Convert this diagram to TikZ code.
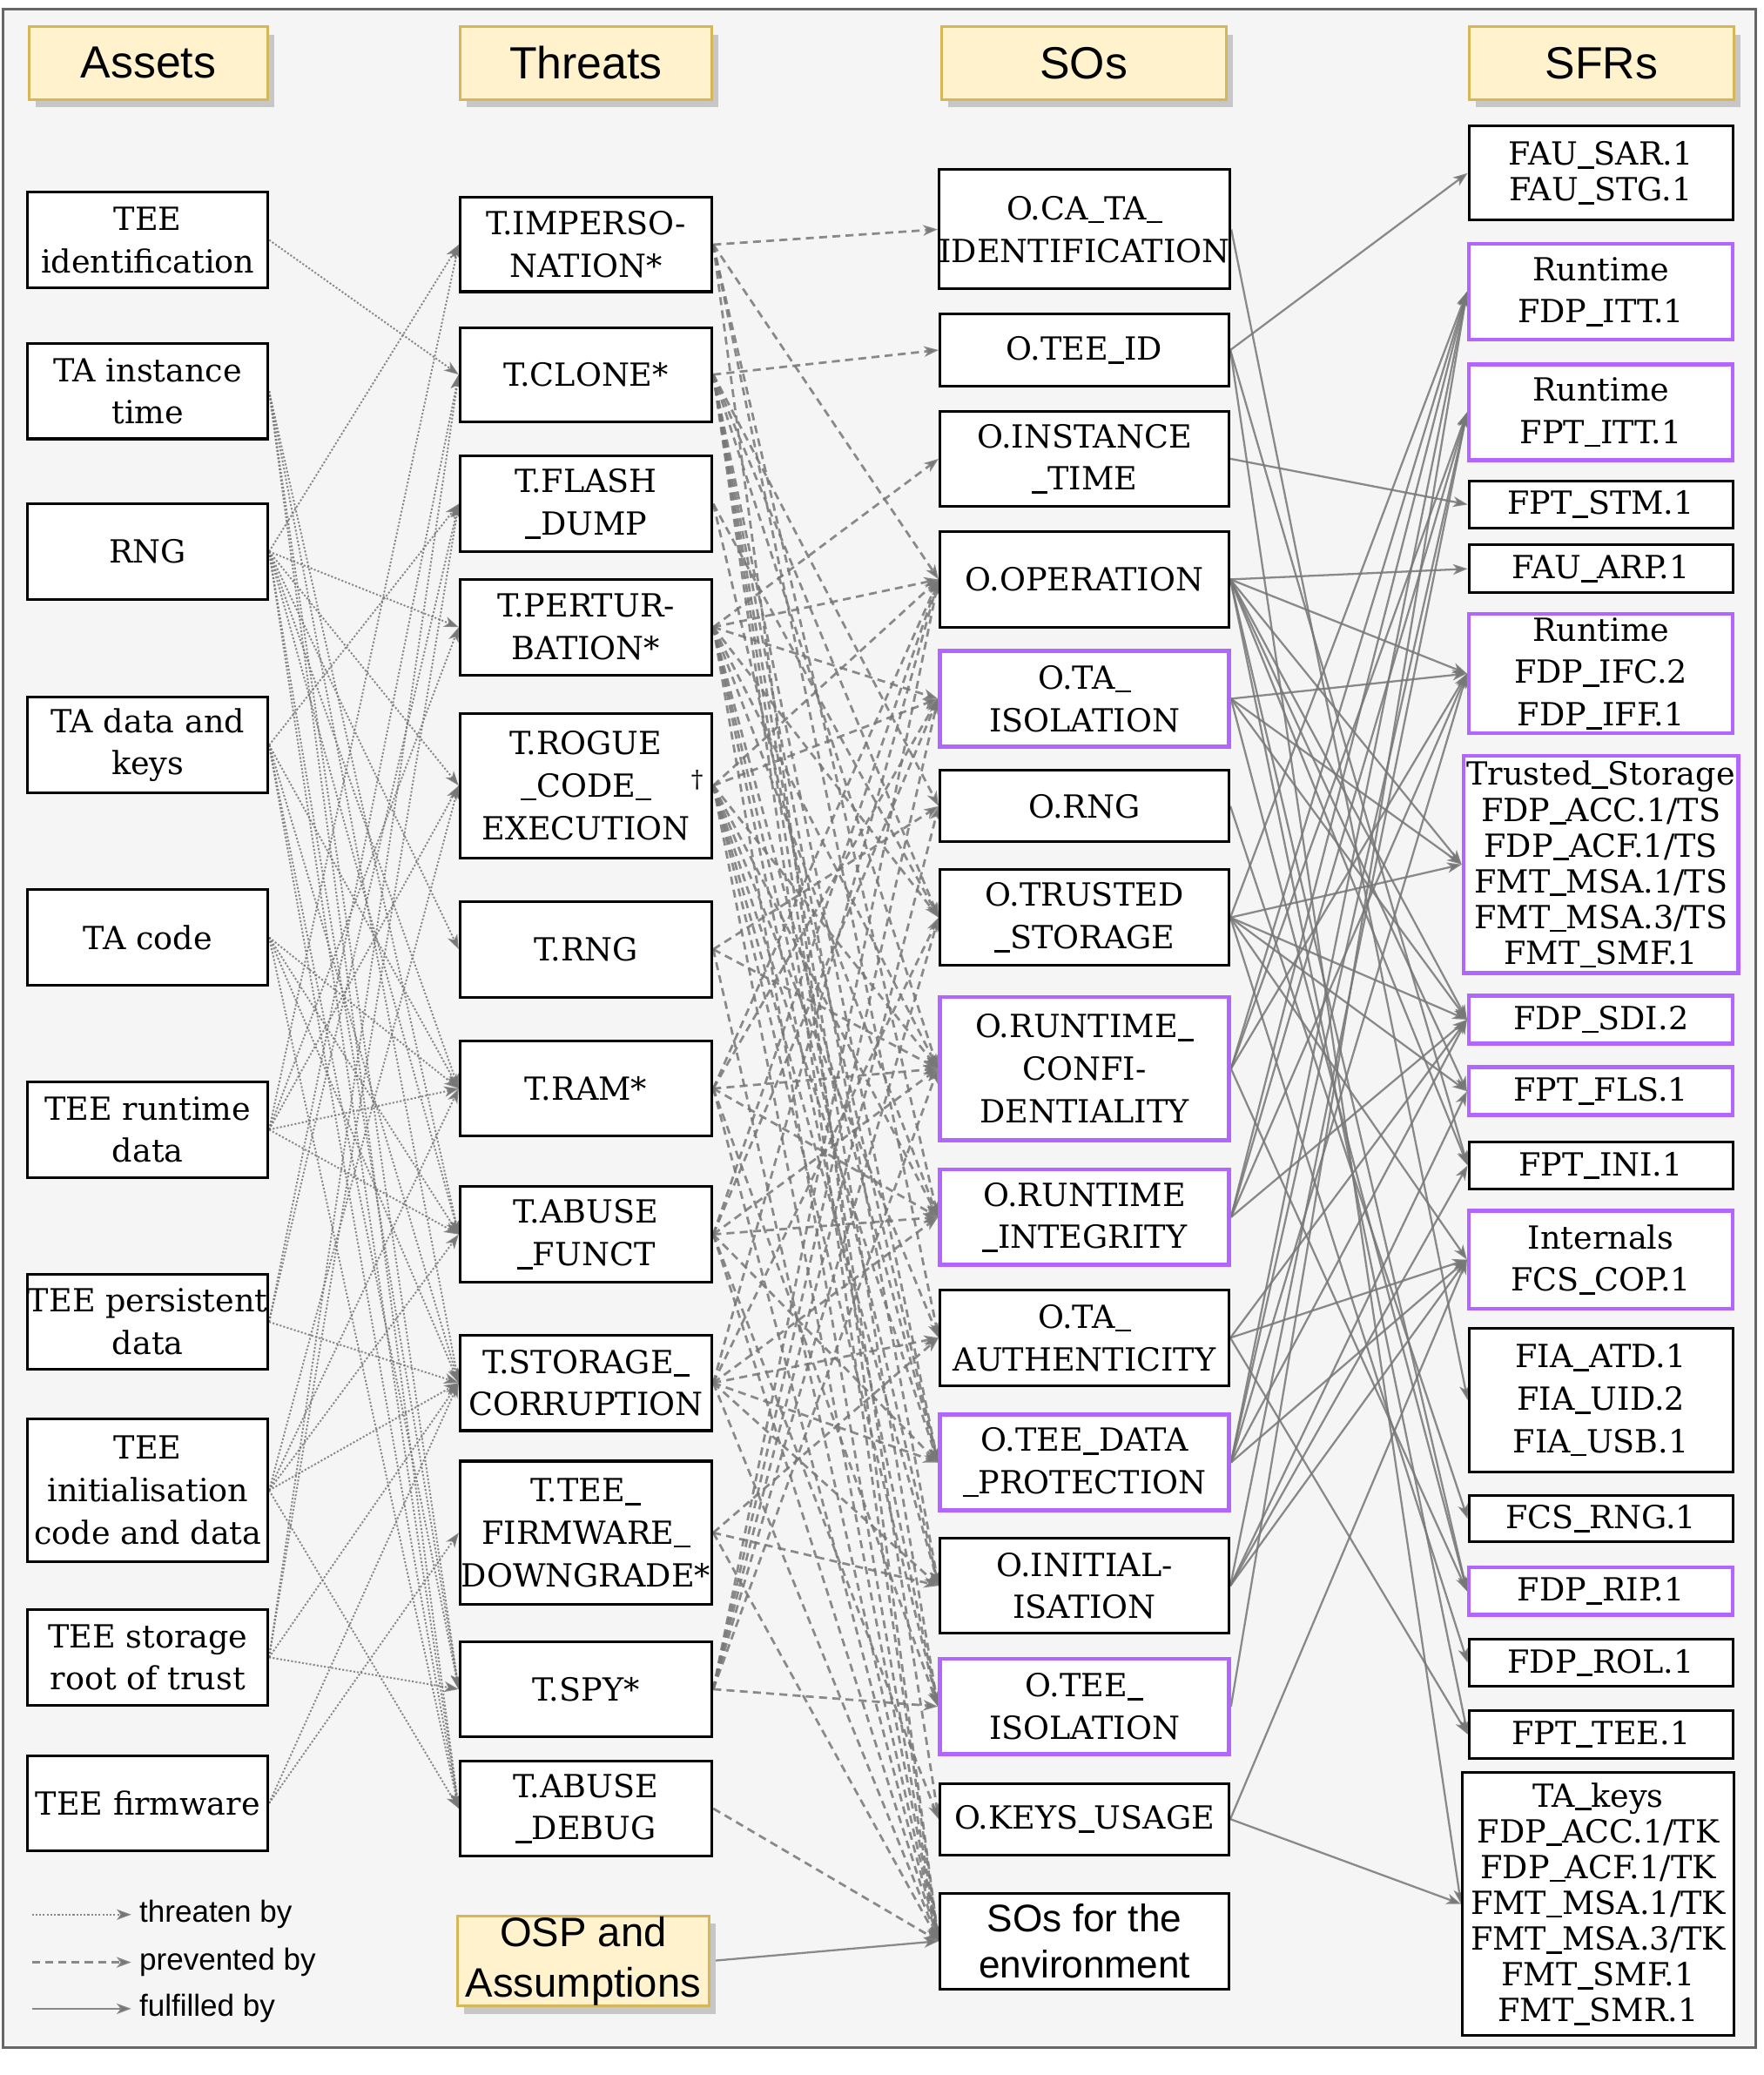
\documentclass[tikz,border=0pt]{standalone}
\usepackage{fontspec}
\setmainfont{DejaVu Serif}
\newfontfamily\sansf{Liberation Sans}
\usetikzlibrary{arrows.meta,shadows}
\definecolor{panel}{HTML}{F5F5F5}
\definecolor{panelborder}{HTML}{666666}
\definecolor{hdrfill}{HTML}{FFF2CC}
\definecolor{hdrdraw}{HTML}{D6B656}
\definecolor{purp}{HTML}{B266FF}
\definecolor{edgec}{HTML}{777777}
\newcommand\us{\rule[-2.6pt]{12pt}{1.8pt}}
\pgfdeclarelayer{back}
\pgfdeclarelayer{edges}
\pgfsetlayers{back,edges,main}
\tikzset{
  box/.style={draw=black, line width=2pt, fill=white, inner sep=0pt, align=center,
    font=\fontsize{24}{32}\selectfont},
  pbox/.style={box, draw=purp, line width=3pt},
  tight/.style={font=\fontsize{24}{27}\selectfont},
  hdr/.style={draw=hdrdraw, fill=hdrfill, line width=2pt, inner sep=0pt, align=center,
    font=\sansf\fontsize{34}{38}\selectfont,
    drop shadow={shadow xshift=5pt, shadow yshift=-6pt, fill=black!22, opacity=1}},
  sbox/.style={box, font=\sansf\fontsize{29}{35}\selectfont},
  lgd/.style={anchor=west, inner sep=0pt, font=\sansf\fontsize{23}{26}\selectfont},
  dotedge/.style={draw=edgec, draw opacity=0.85, line width=1.3pt, dash pattern=on 1.4pt off 1.4pt,
    -{Stealth[length=11pt,width=8pt,inset=3pt]}},
  dashedge/.style={draw=edgec, draw opacity=0.85, line width=1.8pt, dash pattern=on 6pt off 4pt,
    -{Stealth[length=11pt,width=8pt,inset=3pt]}},
  solidedge/.style={draw=edgec, draw opacity=0.85, line width=1.5pt,
    -{Stealth[length=11pt,width=8pt,inset=3pt]}}
}
\begin{document}
\begin{tikzpicture}[x=1pt,y=-1pt]
\useasboundingbox (0,0) rectangle (1330,1565);
\begin{pgfonlayer}{back}
\fill[white] (0,0) rectangle (1330,1565);
\filldraw[fill=panel, draw=panelborder, line width=2pt] (2.6,6.7) rectangle (1324,1544.5);
\end{pgfonlayer}

% headers
\node[hdr, minimum width=180, minimum height=55] (hA) at (112,47.5) {Assets};
\node[hdr, minimum width=190, minimum height=55] (hT) at (442,47.5) {Threats};
\node[hdr, minimum width=215, minimum height=55] (hS) at (817.5,47.5) {SOs};
\node[hdr, minimum width=200, minimum height=55] (hF) at (1208,47.5) {SFRs};
\node[hdr, minimum width=190, minimum height=68, font=\sansf\fontsize{31}{38}\selectfont] (hOSP) at (440,1479) {OSP and\\Assumptions};

% assets
\node[box, minimum width=181, minimum height=72] (aTEEid) at (111.5,181) {TEE\\identification};
\node[box, minimum width=181, minimum height=72] (aTAtime) at (111.5,295) {TA instance\\time};
\node[box, minimum width=181, minimum height=72] (aRNG) at (111.5,416) {RNG};
\node[box, minimum width=181, minimum height=72] (aTAdata) at (111.5,562) {TA data and\\keys};
\node[box, minimum width=181, minimum height=72] (aTAcode) at (111.5,707) {TA code};
\node[box, minimum width=181, minimum height=72] (aRuntime) at (111.5,852) {TEE runtime\\data};
\node[box, minimum width=181, minimum height=72] (aPersist) at (111.5,997) {TEE persistent\\data};
\node[box, minimum width=181, minimum height=108] (aInit) at (111.5,1124) {TEE\\initialisation\\code and data};
\node[box, minimum width=181, minimum height=72] (aRoot) at (111.5,1250) {TEE storage\\root of trust};
\node[box, minimum width=181, minimum height=72] (aFW) at (111.5,1360) {TEE firmware};

% threats
\node[box, minimum width=190, minimum height=71] (tImp) at (442,184.5) {T.IMPERSO-\\NATION*};
\node[box, minimum width=190, minimum height=71] (tClone) at (442,282.5) {T.CLONE*};
\node[box, minimum width=190, minimum height=72] (tFlash) at (442,380) {T.FLASH\\\us DUMP};
\node[box, minimum width=190, minimum height=72] (tPert) at (442,473) {T.PERTUR-\\BATION*};
\node[box, minimum width=190, minimum height=109] (tRogue) at (442,592.5) {T.ROGUE\\\us CODE\us\rlap{\hspace{30pt}\raisebox{7pt}{\fontsize{18}{18}\selectfont †}}\\EXECUTION};
\node[box, minimum width=190, minimum height=72] (tRNG) at (442,716) {T.RNG};
\node[box, minimum width=190, minimum height=72] (tRAM) at (442,821) {T.RAM*};
\node[box, minimum width=190, minimum height=72] (tAbuse) at (442,931) {T.ABUSE\\\us FUNCT};
\node[box, minimum width=190, minimum height=72] (tStor) at (442,1043) {T.STORAGE\us\\CORRUPTION};
\node[box, minimum width=190, minimum height=108] (tFW) at (442,1156) {T.TEE\us\\FIRMWARE\us\\DOWNGRADE*};
\node[box, minimum width=190, minimum height=72] (tSpy) at (442,1274) {T.SPY*};
\node[box, minimum width=190, minimum height=72] (tDebug) at (442,1364) {T.ABUSE\\\us DEBUG};

% SOs
\node[box, minimum width=218, minimum height=90] (sCATA) at (818,173) {O.CA\us TA\us\\IDENTIFICATION};
\node[box, minimum width=218, minimum height=54] (sTEEID) at (818,264) {O.TEE\us ID};
\node[box, minimum width=218, minimum height=72] (sTime) at (818,346) {O.INSTANCE\\\us TIME};
\node[box, minimum width=218, minimum height=72] (sOp) at (818,437) {O.OPERATION};
\node[pbox, minimum width=218, minimum height=72] (sTAiso) at (818,527) {O.TA\us\\ISOLATION};
\node[box, minimum width=218, minimum height=54] (sRNG) at (818,608) {O.RNG};
\node[box, minimum width=218, minimum height=72] (sTS) at (818,692) {O.TRUSTED\\\us STORAGE};
\node[pbox, minimum width=218, minimum height=108] (sRC) at (818,806) {O.RUNTIME\us\\CONFI-\\DENTIALITY};
\node[pbox, minimum width=218, minimum height=72] (sRI) at (818,918) {O.RUNTIME\\\us INTEGRITY};
\node[box, minimum width=218, minimum height=72] (sTAauth) at (818,1009) {O.TA\us\\AUTHENTICITY};
\node[pbox, minimum width=218, minimum height=72] (sTDP) at (818,1103) {O.TEE\us DATA\\\us PROTECTION};
\node[box, minimum width=218, minimum height=72] (sInit) at (818,1196) {O.INITIAL-\\ISATION};
\node[pbox, minimum width=218, minimum height=72] (sTEEiso) at (818,1287) {O.TEE\us\\ISOLATION};
\node[box, minimum width=218, minimum height=54] (sKeys) at (818,1372) {O.KEYS\us USAGE};
\node[sbox, minimum width=218, minimum height=72] (sEnv) at (818,1464) {SOs for the\\environment};

% SFRs
\node[box, tight, minimum width=199, minimum height=71] (fAU) at (1207.5,130.5) {FAU\us SAR.1\\FAU\us STG.1};
\node[pbox, minimum width=199, minimum height=72] (fDITT) at (1207.5,220) {Runtime\\FDP\us ITT.1};
\node[pbox, minimum width=199, minimum height=72] (fPITT) at (1207.5,311) {Runtime\\FPT\us ITT.1};
\node[box, minimum width=199, minimum height=35] (fSTM) at (1207.5,380.5) {FPT\us STM.1};
\node[box, minimum width=199, minimum height=36] (fARP) at (1207.5,429) {FAU\us ARP.1};
\node[pbox, minimum width=199, minimum height=90] (fIFC) at (1207.5,508) {Runtime\\FDP\us IFC.2\\FDP\us IFF.1};
\node[pbox, tight, minimum width=207, minimum height=164] (fTS) at (1207.5,652) {Trusted\us Storage\\FDP\us ACC.1/TS\\FDP\us ACF.1/TS\\FMT\us MSA.1/TS\\FMT\us MSA.3/TS\\FMT\us SMF.1};
\node[pbox, minimum width=199, minimum height=36] (fSDI) at (1207.5,769) {FDP\us SDI.2};
\node[pbox, minimum width=199, minimum height=36] (fFLS) at (1207.5,823) {FPT\us FLS.1};
\node[box, minimum width=199, minimum height=36] (fINI) at (1207.5,879) {FPT\us INI.1};
\node[pbox, minimum width=199, minimum height=74] (fCOP) at (1207.5,950) {Internals\\FCS\us COP.1};
\node[box, minimum width=199, minimum height=108] (fFIA) at (1207.5,1056) {FIA\us ATD.1\\FIA\us UID.2\\FIA\us USB.1};
\node[box, minimum width=199, minimum height=35] (fRNG) at (1207.5,1145.5) {FCS\us RNG.1};
\node[pbox, minimum width=199, minimum height=36] (fRIP) at (1207.5,1200) {FDP\us RIP.1};
\node[box, minimum width=199, minimum height=36] (fROL) at (1207.5,1254) {FDP\us ROL.1};
\node[box, minimum width=199, minimum height=36] (fTEE) at (1207.5,1308) {FPT\us TEE.1};
\node[box, tight, minimum width=205, minimum height=198] (fTK) at (1205.5,1436) {TA\us keys\\FDP\us ACC.1/TK\\FDP\us ACF.1/TK\\FMT\us MSA.1/TK\\FMT\us MSA.3/TK\\FMT\us SMF.1\\FMT\us SMR.1};

% legend
\node[lgd] (lg1) at (105,1444) {threaten by};
\node[lgd] (lg2) at (105,1480) {prevented by};
\node[lgd] (lg3) at (105,1515) {fulfilled by};
\coordinate (lg1s) at (24,1444);
\coordinate (lg2s) at (24,1480);
\coordinate (lg3s) at (24,1515);

\begin{pgfonlayer}{edges}
\draw[dotedge] (lg1s) -- ([xshift=-6pt]lg1.west);
\draw[dashedge] (lg2s) -- ([xshift=-6pt]lg2.west);
\draw[solidedge] (lg3s) -- ([xshift=-6pt]lg3.west);

\foreach \s/\t in {aTEEid/tClone,
  aTAtime/tAbuse, aTAtime/tStor, aTAtime/tSpy, aTAtime/tDebug,
  aRNG/tImp, aRNG/tPert, aRNG/tRogue, aRNG/tRNG, aRNG/tRAM, aRNG/tAbuse, aRNG/tSpy, aRNG/tDebug,
  aTAdata/tFlash, aTAdata/tRAM, aTAdata/tStor, aTAdata/tSpy, aTAdata/tDebug,
  aTAcode/tRAM, aTAcode/tAbuse, aTAcode/tStor, aTAcode/tDebug,
  aRuntime/tImp, aRuntime/tPert, aRuntime/tRogue, aRuntime/tRAM, aRuntime/tAbuse,
  aPersist/tClone, aPersist/tFlash, aPersist/tStor,
  aInit/tRogue, aInit/tRAM, aInit/tAbuse, aInit/tStor, aInit/tDebug,
  aRoot/tClone, aRoot/tFlash, aRoot/tStor, aRoot/tSpy,
  aFW/tFW, aFW/tStor}
  \draw[dotedge] (\s.east) -- (\t.west);

\foreach \s/\t in {tImp/sCATA, tImp/sOp, tImp/sRI, tImp/sTAauth, tImp/sEnv,
  tClone/sTEEID, tClone/sRNG, tClone/sTS, tClone/sRC, tClone/sTDP, tClone/sInit, tClone/sTEEiso, tClone/sKeys, tClone/sEnv,
  tFlash/sTS, tFlash/sTDP,
  tPert/sTime, tPert/sOp, tPert/sTAiso, tPert/sTS, tPert/sRC, tPert/sRI, tPert/sTDP, tPert/sInit, tPert/sTEEiso, tPert/sEnv,
  tRogue/sOp, tRogue/sTAiso, tRogue/sRC, tRogue/sRI, tRogue/sTAauth, tRogue/sTDP, tRogue/sInit, tRogue/sTEEiso, tRogue/sEnv,
  tRNG/sRNG, tRNG/sRC, tRNG/sEnv,
  tRAM/sOp, tRAM/sTAiso, tRAM/sRC, tRAM/sRI, tRAM/sTEEiso, tRAM/sEnv,
  tAbuse/sOp, tAbuse/sTAiso, tAbuse/sRC, tAbuse/sRI, tAbuse/sTDP, tAbuse/sKeys, tAbuse/sEnv,
  tStor/sOp, tStor/sTS, tStor/sRI, tStor/sTAauth, tStor/sTDP, tStor/sInit, tStor/sEnv,
  tFW/sInit, tFW/sTAauth, tFW/sEnv,
  tSpy/sOp, tSpy/sTAiso, tSpy/sRNG, tSpy/sTS, tSpy/sRC, tSpy/sTEEiso,
  tDebug/sEnv}
  \draw[dashedge] (\s.east) -- (\t.west);

\foreach \s/\t in {sCATA/fFIA,
  sTEEID/fAU, sTEEID/fINI, sTEEID/fTK,
  sTime/fSTM,
  sOp/fARP, sOp/fIFC, sOp/fTS, sOp/fSDI, sOp/fFLS, sOp/fINI, sOp/fRIP, sOp/fTEE,
  sTAiso/fIFC, sTAiso/fTS, sTAiso/fSDI, sTAiso/fRIP,
  sRNG/fRNG,
  sTS/fDITT, sTS/fTS, sTS/fSDI, sTS/fFLS, sTS/fCOP, sTS/fROL,
  sRC/fDITT, sRC/fPITT, sRC/fIFC, sRC/fRIP,
  sRI/fDITT, sRI/fPITT, sRI/fIFC, sRI/fSDI,
  sTAauth/fCOP, sTAauth/fSDI, sTAauth/fTEE,
  sTDP/fDITT, sTDP/fPITT, sTDP/fIFC, sTDP/fSDI, sTDP/fCOP,
  sInit/fPITT, sInit/fFLS, sInit/fINI, sInit/fCOP,
  sTEEiso/fDITT,
  sKeys/fCOP, sKeys/fTK,
  hOSP/sEnv}
  \draw[solidedge] (\s.east) -- (\t.west);
\end{pgfonlayer}
\end{tikzpicture}
\end{document}
